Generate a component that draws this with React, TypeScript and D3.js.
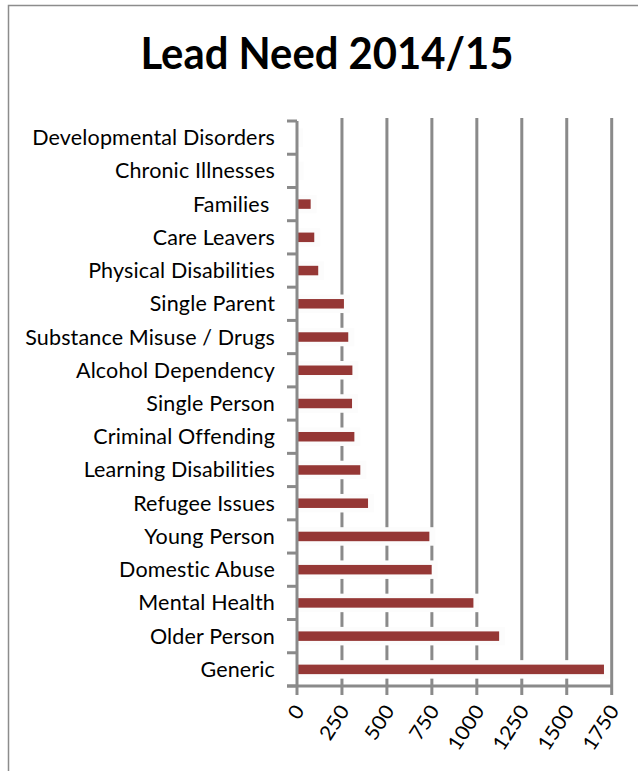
import React from "react";
import * as d3 from "d3";

const categories = [
  "Developmental Disorders",
  "Chronic Illnesses",
  "Families ",
  "Care Leavers",
  "Physical Disabilities",
  "Single Parent",
  "Substance Misuse / Drugs",
  "Alcohol Dependency",
  "Single Person",
  "Criminal Offending",
  "Learning Disabilities",
  "Refugee Issues",
  "Young Person",
  "Domestic Abuse",
  "Mental Health",
  "Older Person",
  "Generic",
];
const values = [1, 4, 76, 96, 118, 261, 285, 308, 306, 319, 352, 395, 736, 749, 981, 1124, 1707];
const xTicks = [0, 250, 500, 750, 1000, 1250, 1500, 1750];
const title = "Lead Need 2014/15";

const W = 638;
const H = 771;
const plot = { left: 297, right: 611.7, top: 121, bottom: 686 };
const GRID = "#8a8a8a";
const BAR = "#953735";

export default function App() {
  const x = d3.scaleLinear().domain([0, 1750]).range([plot.left, plot.right]);
  const y = d3
    .scaleBand<string>()
    .domain(categories)
    .range([plot.top, plot.bottom])
    .paddingInner(0)
    .paddingOuter(0);
  const bw = y.bandwidth();
  const barH = 9.5;
  const boundaries = d3.range(categories.length + 1).map((i) => plot.top + i * bw);

  return (
    <div style={{ position: "absolute", left: 0, top: 0, width: W, height: H, background: "#fff" }}>
      <svg width={W} height={H} style={{ display: "block" }}>
        <rect x={0} y={0} width={W} height={H} fill="#fff" />
        <rect x={8.5} y={5.5} width={W + 20} height={H + 20} fill="#fff" stroke="#8c8c8c" strokeWidth={1.5} />
        <text
          x={327}
          y={69}
          textAnchor="middle"
          fontFamily="Lato, 'Open Sans', sans-serif"
          fontWeight={700}
          fontSize={44}
          textLength={373}
          lengthAdjust="spacingAndGlyphs"
          fill="#000"
        >
          {title}
        </text>

        {/* gridlines */}
        {xTicks.slice(1).map((t) => (
          <line key={"g" + t} x1={x(t)} x2={x(t)} y1={118} y2={plot.bottom} stroke={GRID} strokeWidth={3} />
        ))}

        {/* bar shadows (white halo) */}
        {categories.map((c, i) => {
          const cy = (y(c) as number) + bw / 2;
          return (
            <rect
              key={"s" + c}
              x={plot.left}
              y={cy - barH / 2 - 4.5}
              width={x(values[i]) - plot.left + 6}
              height={barH + 9}
              fill="#fcfcfc"
            />
          );
        })}
        {/* bars */}
        {categories.map((c, i) => {
          const cy = (y(c) as number) + bw / 2;
          return (
            <rect
              key={"b" + c}
              x={plot.left}
              y={cy - barH / 2}
              width={Math.max(0, x(values[i]) - plot.left)}
              height={barH}
              fill={BAR}
            />
          );
        })}

        {/* y axis */}
        <line x1={plot.left} x2={plot.left} y1={plot.top} y2={plot.bottom} stroke={GRID} strokeWidth={3} />
        {boundaries.map((b, i) => (
          <line key={"yt" + i} x1={287} x2={plot.left} y1={b} y2={b} stroke={GRID} strokeWidth={3} />
        ))}
        {/* x axis */}
        <line x1={287} x2={613} y1={plot.bottom} y2={plot.bottom} stroke={GRID} strokeWidth={3} />
        {xTicks.map((t) => (
          <line key={"xt" + t} x1={x(t)} x2={x(t)} y1={plot.bottom} y2={695} stroke={GRID} strokeWidth={3} />
        ))}

        {/* category labels */}
        {categories.map((c) => {
          const cy = (y(c) as number) + bw / 2;
          return (
            <text
              key={"l" + c}
              x={275}
              y={cy + 7.5}
              textAnchor="end"
              fontFamily="Lato, 'Open Sans', sans-serif"
              fontSize={21.5}
              letterSpacing={0.15}
              fill="#000"
              style={{ whiteSpace: "pre" }}
            >
              {c}
            </text>
          );
        })}

        {/* x tick labels */}
        {xTicks.map((t) => {
          const s = String(t);
          return (
            <text
              key={"xl" + t}
              transform={`translate(${x(t) + 4},${708}) rotate(-57)`}
              textAnchor="end"
              dominantBaseline="middle"
              fontFamily="Lato, 'Open Sans', sans-serif"
              fontSize={20}
              textLength={s.length * 12.3}
              lengthAdjust="spacingAndGlyphs"
              fill="#000"
            >
              {s}
            </text>
          );
        })}
      </svg>
    </div>
  );
}
